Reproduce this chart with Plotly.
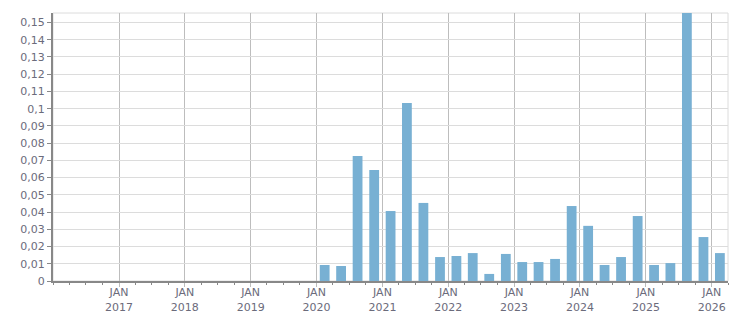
import plotly.graph_objects as go
import pandas as pd

# Quarterly periods (start dates) and values
quarters = ["2020-01-01", "2020-04-01", "2020-07-01", "2020-10-01",
            "2021-01-01", "2021-04-01", "2021-07-01", "2021-10-01",
            "2022-01-01", "2022-04-01", "2022-07-01", "2022-10-01",
            "2023-01-01", "2023-04-01", "2023-07-01", "2023-10-01",
            "2024-01-01", "2024-04-01", "2024-07-01", "2024-10-01",
            "2025-01-01", "2025-04-01", "2025-07-01", "2025-10-01",
            "2026-01-01"]
values = [0.0093, 0.0087, 0.0725, 0.0644,
          0.0406, 0.1033, 0.0453, 0.0139,
          0.0145, 0.0162, 0.0041, 0.0157,
          0.0110, 0.0110, 0.0128, 0.0435,
          0.0320, 0.0093, 0.0139, 0.0377,
          0.0093, 0.0104, 0.1800, 0.0255,
          0.0162]

year_ticks = [f"{y}-01-01" for y in range(2017, 2027)]
year_labels = [f"JAN<br>{y}" for y in range(2017, 2027)]
y_ticks = [round(i * 0.01, 2) for i in range(0, 16)]
y_labels = [f"{v:g}".replace(".", ",") for v in y_ticks]

BAR = "#78b0d3"
TXT = "#6b6b7b"
FONT = "DejaVu Sans"

fig = go.Figure()
fig.add_trace(go.Bar(
    x=quarters, y=values,
    xperiod="M3", xperiod0="2016-01-01", xperiodalignment="middle",
    marker=dict(color=BAR, line=dict(width=0)),
    hoverinfo="x+y",
))

fig.update_layout(
    width=751, height=313,
    margin=dict(l=53, r=23, t=13, b=32, autoexpand=False),
    paper_bgcolor="white", plot_bgcolor="white",
    bargap=0.4,
    showlegend=False,
    font=dict(family=FONT, size=11, color=TXT),
    shapes=[dict(type="rect", xref="paper", yref="paper", x0=0, x1=1, y0=0, y1=1,
                 line=dict(color="#dcdcdc", width=1), layer="below")],
)

fig.update_xaxes(
    type="date", automargin=False,
    range=["2016-01-01", "2026-04-01"],
    tickmode="array", tickvals=year_ticks, ticktext=year_labels,
    ticks="outside", ticklen=4, tickcolor="#bdbdbd", tickwidth=1,
    ticklabelstandoff=-4,
    showgrid=True, gridcolor="#bdbdbd", gridwidth=1,
    showline=True, linecolor="#888888", linewidth=2,
    minor=dict(dtick="M3", tick0="2016-01-01", ticks="outside", ticklen=2,
               tickcolor="#888888", showgrid=False),
    tickfont=dict(family=FONT, size=11, color=TXT),
    zeroline=False,
)

fig.update_yaxes(
    automargin=False,
    range=[0, 0.1555],
    tickmode="array", tickvals=y_ticks, ticktext=y_labels,
    ticks="outside", ticklen=4, tickcolor="#888888",
    showgrid=True, gridcolor="#dcdcdc", gridwidth=1,
    showline=True, linecolor="#888888", linewidth=2,
    zeroline=False,
    tickfont=dict(family=FONT, size=11, color=TXT),
)

fig.write_html("out.html")
